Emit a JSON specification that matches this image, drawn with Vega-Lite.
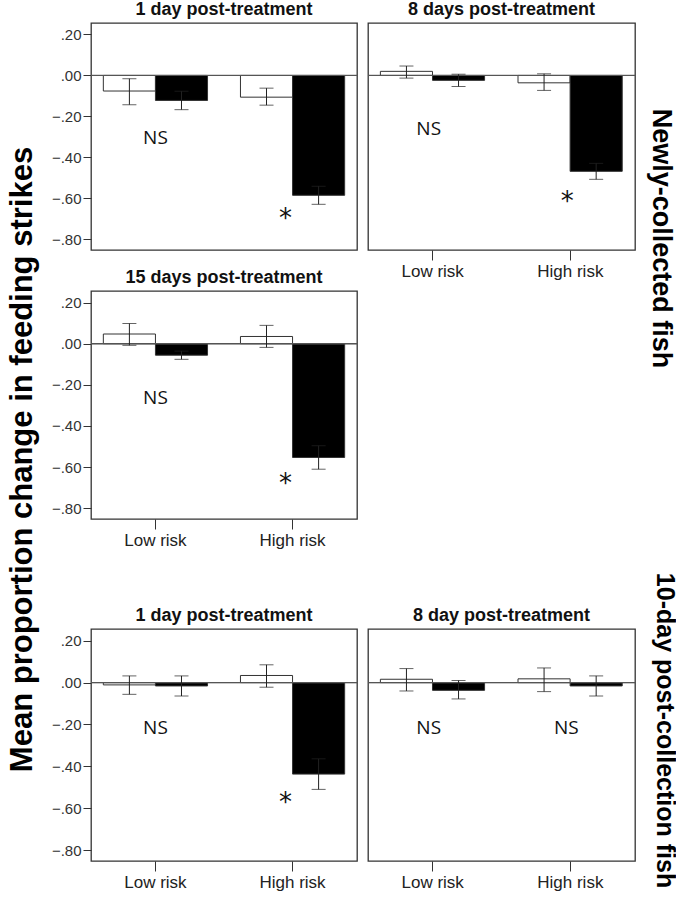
{
"$schema": "https://vega.github.io/schema/vega-lite/v6.json",
"background": "white",
"padding": {"left": 5, "top": 0, "right": 0, "bottom": 0},
"datasets": {
"bars": [
{"panel":"p1","risk":"Low risk","group":"ctrl","mean":-0.076,"lo":-0.143,"hi":-0.016},
{"panel":"p1","risk":"Low risk","group":"pred","mean":-0.122,"lo":-0.167,"hi":-0.077},
{"panel":"p1","risk":"High risk","group":"ctrl","mean":-0.106,"lo":-0.145,"hi":-0.062},
{"panel":"p1","risk":"High risk","group":"pred","mean":-0.585,"lo":-0.629,"hi":-0.541},
{"panel":"p2","risk":"Low risk","group":"ctrl","mean":0.02,"lo":-0.013,"hi":0.046},
{"panel":"p2","risk":"Low risk","group":"pred","mean":-0.024,"lo":-0.054,"hi":0.006},
{"panel":"p2","risk":"High risk","group":"ctrl","mean":-0.036,"lo":-0.073,"hi":0.008},
{"panel":"p2","risk":"High risk","group":"pred","mean":-0.468,"lo":-0.507,"hi":-0.429},
{"panel":"p3","risk":"Low risk","group":"ctrl","mean":0.047,"lo":-0.008,"hi":0.098},
{"panel":"p3","risk":"Low risk","group":"pred","mean":-0.056,"lo":-0.076,"hi":-0.036},
{"panel":"p3","risk":"High risk","group":"ctrl","mean":0.035,"lo":-0.018,"hi":0.089},
{"panel":"p3","risk":"High risk","group":"pred","mean":-0.553,"lo":-0.61,"hi":-0.496},
{"panel":"p4","risk":"Low risk","group":"ctrl","mean":-0.011,"lo":-0.056,"hi":0.032},
{"panel":"p4","risk":"Low risk","group":"pred","mean":-0.016,"lo":-0.064,"hi":0.032},
{"panel":"p4","risk":"High risk","group":"ctrl","mean":0.034,"lo":-0.022,"hi":0.085},
{"panel":"p4","risk":"High risk","group":"pred","mean":-0.437,"lo":-0.51,"hi":-0.364},
{"panel":"p5","risk":"Low risk","group":"ctrl","mean":0.016,"lo":-0.04,"hi":0.067},
{"panel":"p5","risk":"Low risk","group":"pred","mean":-0.037,"lo":-0.078,"hi":0.01},
{"panel":"p5","risk":"High risk","group":"ctrl","mean":0.018,"lo":-0.043,"hi":0.07},
{"panel":"p5","risk":"High risk","group":"pred","mean":-0.016,"lo":-0.064,"hi":0.032}
],
"notes": [
{"panel":"p1","risk":"Low risk","val":-0.305,"label":"NS"},
{"panel":"p1","risk":"High risk","val":-0.70,"label":"*"},
{"panel":"p2","risk":"Low risk","val":-0.261,"label":"NS"},
{"panel":"p2","risk":"High risk","val":-0.62,"label":"*"},
{"panel":"p3","risk":"Low risk","val":-0.264,"label":"NS"},
{"panel":"p3","risk":"High risk","val":-0.683,"label":"*"},
{"panel":"p4","risk":"Low risk","val":-0.217,"label":"NS"},
{"panel":"p4","risk":"High risk","val":-0.574,"label":"*"},
{"panel":"p5","risk":"Low risk","val":-0.217,"label":"NS"},
{"panel":"p5","risk":"High risk","val":-0.217,"label":"NS"}
]
},
"columns": 2,
"spacing": {"row": 41, "column": 11},
"bounds": "flush",
"align": "each",
"concat": [
{
"title": "1 day post-treatment",
"width": 266, "height": 227,
"data": {"name": "bars"},
"transform": [{"filter": "datum.panel === 'p1'"}],
"layer": [
{"mark": {"type": "bar", "stroke": "#333", "strokeWidth": 1},
 "encoding": {
  "x": {"field": "risk", "type": "nominal", "sort": null, "scale": {"domain": ["Low risk","High risk"], "paddingInner": 0.24, "paddingOuter": 0.09}, "axis": null},
  "xOffset": {"field": "group", "type": "nominal", "scale": {"domain": ["ctrl","pred"], "paddingInner": 0, "paddingOuter": 0}},
  "y": {"field": "mean", "type": "quantitative", "scale": {"domain": [-0.852, 0.256], "nice": false, "zero": false},
        "axis": {"values": [0.2, 0, -0.2, -0.4, -0.6, -0.8], "labelExpr": "replace(format(datum.value, '.2f'), '0.', '.')", "domain": false, "tickSize": 8, "tickColor": "#333", "labelFont": "Liberation Sans", "labelFontSize": 15, "labelColor": "#333", "labelPadding": 2,
                 "title": "Mean proportion change in feeding strikes", "titleAngle": 270, "titleX": -69, "titleY": 436, "titleFont": "Liberation Sans", "titleFontSize": 31, "titleFontWeight": "bold", "titleColor": "#000", "titleAlign": "center", "titleBaseline": "middle"}},
  "y2": {"datum": 0},
  "fill": {"field": "group", "type": "nominal", "scale": {"domain": ["ctrl","pred"], "range": ["#ffffff","#000000"]}, "legend": null}
 }},
{"mark": {"type": "rule", "color": "#555", "strokeWidth": 1},
 "encoding": {"y": {"datum": 0, "type": "quantitative"}}},
{"mark": {"type": "rule", "color": "#222", "strokeWidth": 1},
 "encoding": {
  "x": {"field": "risk", "type": "nominal", "sort": null, "axis": null},
  "xOffset": {"field": "group", "type": "nominal"},
  "y": {"field": "lo", "type": "quantitative"},
  "y2": {"field": "hi"}
 }},
{"mark": {"type": "tick", "orient": "horizontal", "size": 14, "thickness": 1, "color": "#222"},
 "encoding": {
  "x": {"field": "risk", "type": "nominal", "sort": null, "axis": null},
  "xOffset": {"field": "group", "type": "nominal"},
  "y": {"field": "lo", "type": "quantitative"}
 }},
{"mark": {"type": "tick", "orient": "horizontal", "size": 14, "thickness": 1, "color": "#222"},
 "encoding": {
  "x": {"field": "risk", "type": "nominal", "sort": null, "axis": null},
  "xOffset": {"field": "group", "type": "nominal"},
  "y": {"field": "hi", "type": "quantitative"}
 }},
{"data": {"name": "notes"},
 "transform": [{"filter": "datum.panel === 'p1' && datum.label === 'NS'"}],
 "mark": {"type": "text", "font": "Open Sans", "fontSize": 19, "baseline": "middle", "align": "center", "color": "#111"},
 "encoding": {
  "x": {"field": "risk", "type": "nominal", "sort": null, "axis": null},
  "y": {"field": "val", "type": "quantitative"},
  "text": {"field": "label"}
 }},
{"data": {"name": "notes"},
 "transform": [{"filter": "datum.panel === 'p1' && datum.label === '*'"}],
 "mark": {"type": "text", "font": "DejaVu Sans", "fontSize": 26, "baseline": "middle", "align": "center", "color": "#111", "dx": -7},
 "encoding": {
  "x": {"field": "risk", "type": "nominal", "sort": null, "axis": null},
  "y": {"field": "val", "type": "quantitative"},
  "text": {"field": "label"}
 }}
]
},
{
"title": "8 days post-treatment",
"width": 267, "height": 227,
"data": {"name": "bars"},
"transform": [{"filter": "datum.panel === 'p2'"}],
"layer": [
{"mark": {"type": "bar", "stroke": "#333", "strokeWidth": 1},
 "encoding": {
  "x": {"field": "risk", "type": "nominal", "sort": null, "scale": {"domain": ["Low risk","High risk"], "paddingInner": 0.24, "paddingOuter": 0.09},
        "axis": {"domain": false, "tickSize": 10, "tickColor": "#333", "labelFont": "Liberation Sans", "labelFontSize": 17, "labelColor": "#222", "labelPadding": 3, "labelAngle": 0, "title": null}},
  "xOffset": {"field": "group", "type": "nominal", "scale": {"domain": ["ctrl","pred"], "paddingInner": 0, "paddingOuter": 0}},
  "y": {"field": "mean", "type": "quantitative", "scale": {"domain": [-0.852, 0.256], "nice": false, "zero": false},
        "axis": {"orient": "right", "labels": false, "ticks": false, "domain": false, "title": "Newly-collected fish", "titleAngle": 90, "titleX": 25, "titleY": 215, "titleFont": "Liberation Sans", "titleFontSize": 27, "titleFontWeight": "bold", "titleColor": "#000", "titleAlign": "center", "titleBaseline": "middle"}},
  "y2": {"datum": 0},
  "fill": {"field": "group", "type": "nominal", "scale": {"domain": ["ctrl","pred"], "range": ["#ffffff","#000000"]}, "legend": null}
 }},
{"mark": {"type": "rule", "color": "#555", "strokeWidth": 1},
 "encoding": {"y": {"datum": 0, "type": "quantitative"}}},
{"mark": {"type": "rule", "color": "#222", "strokeWidth": 1},
 "encoding": {
  "x": {"field": "risk", "type": "nominal", "sort": null},
  "xOffset": {"field": "group", "type": "nominal"},
  "y": {"field": "lo", "type": "quantitative"},
  "y2": {"field": "hi"}
 }},
{"mark": {"type": "tick", "orient": "horizontal", "size": 14, "thickness": 1, "color": "#222"},
 "encoding": {
  "x": {"field": "risk", "type": "nominal", "sort": null},
  "xOffset": {"field": "group", "type": "nominal"},
  "y": {"field": "lo", "type": "quantitative"}
 }},
{"mark": {"type": "tick", "orient": "horizontal", "size": 14, "thickness": 1, "color": "#222"},
 "encoding": {
  "x": {"field": "risk", "type": "nominal", "sort": null},
  "xOffset": {"field": "group", "type": "nominal"},
  "y": {"field": "hi", "type": "quantitative"}
 }},
{"data": {"name": "notes"},
 "transform": [{"filter": "datum.panel === 'p2' && datum.label === 'NS'"}],
 "mark": {"type": "text", "font": "Open Sans", "fontSize": 19, "baseline": "middle", "align": "center", "color": "#111", "dx": -4},
 "encoding": {
  "x": {"field": "risk", "type": "nominal", "sort": null},
  "y": {"field": "val", "type": "quantitative"},
  "text": {"field": "label"}
 }},
{"data": {"name": "notes"},
 "transform": [{"filter": "datum.panel === 'p2' && datum.label === '*'"}],
 "mark": {"type": "text", "font": "DejaVu Sans", "fontSize": 26, "baseline": "middle", "align": "center", "color": "#111", "dx": -3},
 "encoding": {
  "x": {"field": "risk", "type": "nominal", "sort": null},
  "y": {"field": "val", "type": "quantitative"},
  "text": {"field": "label"}
 }}
]
},
{
"title": "15 days post-treatment",
"width": 266, "height": 228,
"data": {"name": "bars"},
"transform": [{"filter": "datum.panel === 'p3'"}],
"layer": [
{"mark": {"type": "bar", "stroke": "#333", "strokeWidth": 1},
 "encoding": {
  "x": {"field": "risk", "type": "nominal", "sort": null, "scale": {"domain": ["Low risk","High risk"], "paddingInner": 0.24, "paddingOuter": 0.09},
        "axis": {"domain": false, "tickSize": 10, "tickColor": "#333", "labelFont": "Liberation Sans", "labelFontSize": 17, "labelColor": "#222", "labelPadding": 3, "labelAngle": 0, "title": null}},
  "xOffset": {"field": "group", "type": "nominal", "scale": {"domain": ["ctrl","pred"], "paddingInner": 0, "paddingOuter": 0}},
  "y": {"field": "mean", "type": "quantitative", "scale": {"domain": [-0.852, 0.256], "nice": false, "zero": false},
        "axis": {"values": [0.2, 0, -0.2, -0.4, -0.6, -0.8], "labelExpr": "replace(format(datum.value, '.2f'), '0.', '.')", "domain": false, "tickSize": 8, "tickColor": "#333", "labelFont": "Liberation Sans", "labelFontSize": 15, "labelColor": "#333", "labelPadding": 2, "title": null}},
  "y2": {"datum": 0},
  "fill": {"field": "group", "type": "nominal", "scale": {"domain": ["ctrl","pred"], "range": ["#ffffff","#000000"]}, "legend": null}
 }},
{"mark": {"type": "rule", "color": "#555", "strokeWidth": 1},
 "encoding": {"y": {"datum": 0, "type": "quantitative"}}},
{"mark": {"type": "rule", "color": "#222", "strokeWidth": 1},
 "encoding": {
  "x": {"field": "risk", "type": "nominal", "sort": null},
  "xOffset": {"field": "group", "type": "nominal"},
  "y": {"field": "lo", "type": "quantitative"},
  "y2": {"field": "hi"}
 }},
{"mark": {"type": "tick", "orient": "horizontal", "size": 14, "thickness": 1, "color": "#222"},
 "encoding": {
  "x": {"field": "risk", "type": "nominal", "sort": null},
  "xOffset": {"field": "group", "type": "nominal"},
  "y": {"field": "lo", "type": "quantitative"}
 }},
{"mark": {"type": "tick", "orient": "horizontal", "size": 14, "thickness": 1, "color": "#222"},
 "encoding": {
  "x": {"field": "risk", "type": "nominal", "sort": null},
  "xOffset": {"field": "group", "type": "nominal"},
  "y": {"field": "hi", "type": "quantitative"}
 }},
{"data": {"name": "notes"},
 "transform": [{"filter": "datum.panel === 'p3' && datum.label === 'NS'"}],
 "mark": {"type": "text", "font": "Open Sans", "fontSize": 19, "baseline": "middle", "align": "center", "color": "#111"},
 "encoding": {
  "x": {"field": "risk", "type": "nominal", "sort": null},
  "y": {"field": "val", "type": "quantitative"},
  "text": {"field": "label"}
 }},
{"data": {"name": "notes"},
 "transform": [{"filter": "datum.panel === 'p3' && datum.label === '*'"}],
 "mark": {"type": "text", "font": "DejaVu Sans", "fontSize": 26, "baseline": "middle", "align": "center", "color": "#111", "dx": -7},
 "encoding": {
  "x": {"field": "risk", "type": "nominal", "sort": null},
  "y": {"field": "val", "type": "quantitative"},
  "text": {"field": "label"}
 }}
]
},
{
"width": 267, "height": 297,
"data": {"name": "bars"},
"transform": [{"filter": "datum.panel === 'p5'"}],
"mark": {"type": "point", "opacity": 0},
"encoding": {
 "y": {"field": "mean", "type": "quantitative", "scale": {"domain": [-0.852, 0.256], "nice": false, "zero": false},
       "axis": {"orient": "right", "labels": false, "ticks": false, "domain": false, "title": "10-day post-collection fish", "titleAngle": 90, "titleX": 29, "titleY": 439, "titleFont": "Liberation Sans", "titleFontSize": 25, "titleFontWeight": "bold", "titleColor": "#000", "titleAlign": "center", "titleBaseline": "middle"}}
},
"view": {"stroke": null}
},
{
"title": "1 day post-treatment",
"width": 266, "height": 232,
"data": {"name": "bars"},
"transform": [{"filter": "datum.panel === 'p4'"}],
"layer": [
{"mark": {"type": "bar", "stroke": "#333", "strokeWidth": 1},
 "encoding": {
  "x": {"field": "risk", "type": "nominal", "sort": null, "scale": {"domain": ["Low risk","High risk"], "paddingInner": 0.24, "paddingOuter": 0.09},
        "axis": {"domain": false, "tickSize": 10, "tickColor": "#333", "labelFont": "Liberation Sans", "labelFontSize": 17, "labelColor": "#222", "labelPadding": 3, "labelAngle": 0, "title": null}},
  "xOffset": {"field": "group", "type": "nominal", "scale": {"domain": ["ctrl","pred"], "paddingInner": 0, "paddingOuter": 0}},
  "y": {"field": "mean", "type": "quantitative", "scale": {"domain": [-0.852, 0.256], "nice": false, "zero": false},
        "axis": {"values": [0.2, 0, -0.2, -0.4, -0.6, -0.8], "labelExpr": "replace(format(datum.value, '.2f'), '0.', '.')", "domain": false, "tickSize": 8, "tickColor": "#333", "labelFont": "Liberation Sans", "labelFontSize": 15, "labelColor": "#333", "labelPadding": 2, "title": null}},
  "y2": {"datum": 0},
  "fill": {"field": "group", "type": "nominal", "scale": {"domain": ["ctrl","pred"], "range": ["#ffffff","#000000"]}, "legend": null}
 }},
{"mark": {"type": "rule", "color": "#555", "strokeWidth": 1},
 "encoding": {"y": {"datum": 0, "type": "quantitative"}}},
{"mark": {"type": "rule", "color": "#222", "strokeWidth": 1},
 "encoding": {
  "x": {"field": "risk", "type": "nominal", "sort": null},
  "xOffset": {"field": "group", "type": "nominal"},
  "y": {"field": "lo", "type": "quantitative"},
  "y2": {"field": "hi"}
 }},
{"mark": {"type": "tick", "orient": "horizontal", "size": 14, "thickness": 1, "color": "#222"},
 "encoding": {
  "x": {"field": "risk", "type": "nominal", "sort": null},
  "xOffset": {"field": "group", "type": "nominal"},
  "y": {"field": "lo", "type": "quantitative"}
 }},
{"mark": {"type": "tick", "orient": "horizontal", "size": 14, "thickness": 1, "color": "#222"},
 "encoding": {
  "x": {"field": "risk", "type": "nominal", "sort": null},
  "xOffset": {"field": "group", "type": "nominal"},
  "y": {"field": "hi", "type": "quantitative"}
 }},
{"data": {"name": "notes"},
 "transform": [{"filter": "datum.panel === 'p4' && datum.label === 'NS'"}],
 "mark": {"type": "text", "font": "Open Sans", "fontSize": 19, "baseline": "middle", "align": "center", "color": "#111"},
 "encoding": {
  "x": {"field": "risk", "type": "nominal", "sort": null},
  "y": {"field": "val", "type": "quantitative"},
  "text": {"field": "label"}
 }},
{"data": {"name": "notes"},
 "transform": [{"filter": "datum.panel === 'p4' && datum.label === '*'"}],
 "mark": {"type": "text", "font": "DejaVu Sans", "fontSize": 26, "baseline": "middle", "align": "center", "color": "#111", "dx": -7},
 "encoding": {
  "x": {"field": "risk", "type": "nominal", "sort": null},
  "y": {"field": "val", "type": "quantitative"},
  "text": {"field": "label"}
 }}
]
},
{
"title": "8 day post-treatment",
"width": 267, "height": 232,
"data": {"name": "bars"},
"transform": [{"filter": "datum.panel === 'p5'"}],
"layer": [
{"mark": {"type": "bar", "stroke": "#333", "strokeWidth": 1},
 "encoding": {
  "x": {"field": "risk", "type": "nominal", "sort": null, "scale": {"domain": ["Low risk","High risk"], "paddingInner": 0.24, "paddingOuter": 0.09},
        "axis": {"domain": false, "tickSize": 10, "tickColor": "#333", "labelFont": "Liberation Sans", "labelFontSize": 17, "labelColor": "#222", "labelPadding": 3, "labelAngle": 0, "title": null}},
  "xOffset": {"field": "group", "type": "nominal", "scale": {"domain": ["ctrl","pred"], "paddingInner": 0, "paddingOuter": 0}},
  "y": {"field": "mean", "type": "quantitative", "scale": {"domain": [-0.852, 0.256], "nice": false, "zero": false}, "axis": null},
  "y2": {"datum": 0},
  "fill": {"field": "group", "type": "nominal", "scale": {"domain": ["ctrl","pred"], "range": ["#ffffff","#000000"]}, "legend": null}
 }},
{"mark": {"type": "rule", "color": "#555", "strokeWidth": 1},
 "encoding": {"y": {"datum": 0, "type": "quantitative"}}},
{"mark": {"type": "rule", "color": "#222", "strokeWidth": 1},
 "encoding": {
  "x": {"field": "risk", "type": "nominal", "sort": null},
  "xOffset": {"field": "group", "type": "nominal"},
  "y": {"field": "lo", "type": "quantitative"},
  "y2": {"field": "hi"}
 }},
{"mark": {"type": "tick", "orient": "horizontal", "size": 14, "thickness": 1, "color": "#222"},
 "encoding": {
  "x": {"field": "risk", "type": "nominal", "sort": null},
  "xOffset": {"field": "group", "type": "nominal"},
  "y": {"field": "lo", "type": "quantitative"}
 }},
{"mark": {"type": "tick", "orient": "horizontal", "size": 14, "thickness": 1, "color": "#222"},
 "encoding": {
  "x": {"field": "risk", "type": "nominal", "sort": null},
  "xOffset": {"field": "group", "type": "nominal"},
  "y": {"field": "hi", "type": "quantitative"}
 }},
{"data": {"name": "notes"},
 "transform": [{"filter": "datum.panel === 'p5' && datum.label === 'NS'"}],
 "mark": {"type": "text", "font": "Open Sans", "fontSize": 19, "baseline": "middle", "align": "center", "color": "#111", "dx": -4},
 "encoding": {
  "x": {"field": "risk", "type": "nominal", "sort": null},
  "y": {"field": "val", "type": "quantitative"},
  "text": {"field": "label"}
 }}
]
}
],
"config": {
 "view": {"stroke": "#333", "strokeWidth": 1.3},
 "axis": {"grid": false},
 "title": {"font": "Liberation Sans", "fontSize": 18, "fontWeight": "bold", "color": "#111", "offset": 4, "anchor": "middle", "frame": "group"}
}
}
